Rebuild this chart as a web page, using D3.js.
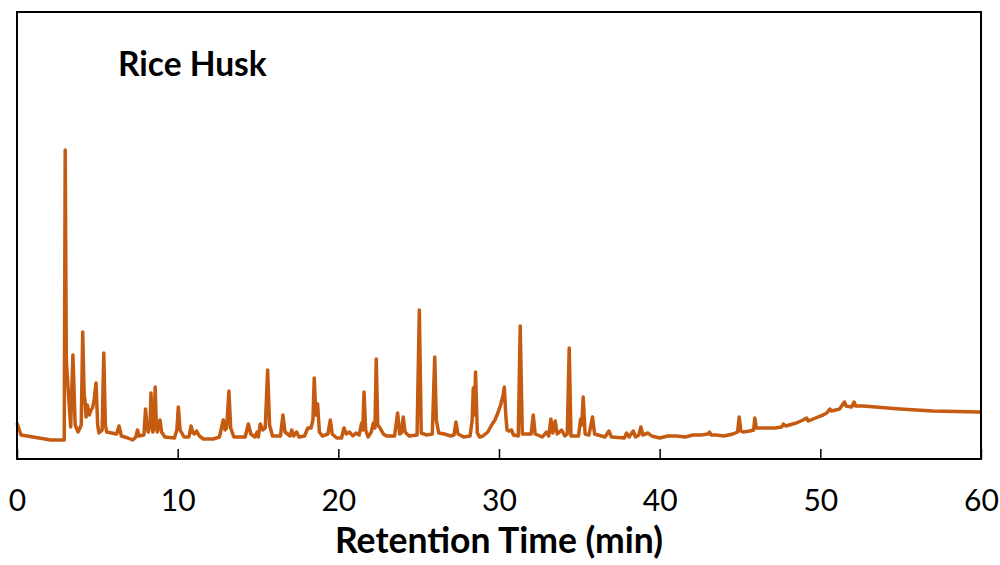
<!DOCTYPE html>
<meta charset="utf-8">
<script src="https://d3js.org/d3.v7.js"></script>
<style>
body { margin: 0; background: white; }
svg { font-family: 'Lato'; }
</style>
<body>
<div id="chart"></div>
<script>
// chromatogram trace: time (min) and detector response (a.u.)
var retentionTime = [0.0, 0.25, 1.0, 2.1, 2.9, 2.94, 3.0, 3.07, 3.12, 3.34, 3.48, 3.62, 3.8, 4.0, 4.09, 4.18, 4.23, 4.3, 4.38, 4.5, 4.6, 4.7, 4.8, 4.92, 5.02, 5.1, 5.3, 5.4, 5.5, 5.58,
    6.2, 6.35, 6.5, 6.9, 7.2, 7.4, 7.5, 7.6, 7.9, 8.0, 8.1, 8.17, 8.28, 8.34, 8.41, 8.46, 8.54, 8.6, 8.67, 8.73, 8.82, 8.9, 9.0, 9.2, 9.8, 9.95,
    10.04, 10.15, 10.4, 10.7, 10.83, 10.95, 11.05, 11.18, 11.35, 11.6, 12.2, 12.6, 12.84, 12.95, 13.05, 13.19, 13.3, 13.5, 14.2, 14.4, 14.55, 14.8, 14.95,
    15.02, 15.14, 15.3, 15.45, 15.6, 15.72, 15.9, 16.4, 16.55, 16.68, 17.0, 17.1, 17.22, 17.4, 17.55, 17.9, 18.1, 18.3, 18.42, 18.5, 18.6, 18.71, 18.82,
    19.0, 19.35, 19.5, 19.62, 19.9, 20.2, 20.35, 20.5, 20.7, 20.9, 21.1, 21.3, 21.45, 21.52, 21.6, 21.7, 21.85, 22.05, 22.18, 22.28, 22.36, 22.45, 22.6,
    22.8, 23.0, 23.5, 23.69, 23.82, 23.92, 24.04, 24.15, 24.4, 24.9, 25.04, 25.16, 25.5, 25.85, 26.0, 26.1, 26.25, 26.6, 27.0, 27.2, 27.32, 27.45, 27.8,
    28.2, 28.33, 28.4, 28.47, 28.54, 28.65, 28.8, 29.0, 29.3, 29.54, 29.75, 29.95, 30.1, 30.26, 30.33, 30.43, 30.5, 30.6, 30.78, 30.9, 31.2, 31.32, 31.45, 31.8,
    32.0, 32.13, 32.25, 32.7, 32.95, 33.1, 33.23, 33.35, 33.5, 33.62, 33.9, 34.1, 34.25, 34.37, 34.48, 34.95, 35.08, 35.15, 35.24, 35.36, 35.6, 35.82,
    35.95, 36.6, 36.84, 37.0, 37.8, 37.94, 38.1, 38.35, 38.5, 38.7, 38.83, 38.95, 39.27, 39.5, 40.0, 40.5, 41.05, 41.6, 42.07, 42.6, 43.0, 43.1, 43.2,
    43.5, 44.0, 44.55, 44.85, 44.95, 45.05, 45.2, 45.6, 45.85, 45.92, 46.02, 46.65, 47.2, 47.6, 47.7, 47.85, 48.5, 48.93, 49.14, 49.25, 49.7,
    50.17, 50.4, 50.59, 50.7, 51.2, 51.5, 51.6, 51.95, 52.1, 52.2, 52.67, 54.95, 57.0, 59.93, 60.0];

var response = [36, 24, 22, 19, 19, 19, 309, 99, 86, 32, 104, 34, 27, 34, 127, 64, 59, 42, 54, 44, 49, 51, 59, 76, 34, 26, 29, 106, 34, 27,
    25, 33, 23, 21, 19, 22, 29, 23, 24, 50, 31, 27, 34, 66, 34, 27, 34, 72, 34, 27, 31, 39, 27, 22, 21, 29,
    52, 29, 22, 22, 33, 26, 25, 28, 23, 20, 20, 22, 39, 29, 31, 68, 31, 22, 22, 35, 25, 22, 27,
    22, 35, 29, 31, 89, 34, 23, 23, 44, 27, 23, 29, 23, 27, 22, 23, 31, 31, 39, 81, 44, 55, 27,
    23, 25, 39, 25, 21, 21, 31, 25, 27, 23, 26, 24, 36, 29, 67, 29, 22, 27, 36, 31, 100, 34, 31,
    25, 23, 23, 46, 25, 26, 42, 27, 23, 24, 149, 26, 24, 25, 102, 39, 26, 25, 23, 24, 37, 25, 22,
    23, 39, 71, 44, 87, 26, 22, 23, 27, 34, 39, 47, 54, 64, 72, 42, 29, 28, 29, 24, 23, 133, 25, 25,
    25, 44, 25, 22, 27, 23, 40, 26, 38, 25, 29, 23, 25, 111, 23, 23, 40, 34, 62, 25, 24, 42,
    25, 22, 28, 22, 21, 26, 22, 28, 22, 24, 32, 24, 26, 23, 21, 23, 23, 22, 24, 24, 25, 27, 24,
    24, 23, 25, 27, 42, 28, 27, 28, 29, 41, 31, 31, 31, 32, 35, 33, 36, 39, 41, 38, 41,
    44, 46, 50, 48, 50, 57, 53, 52, 57, 53, 53, 50, 48, 47, 47];

var xTicks = [0, 10, 20, 30, 40, 50, 60];
var sampleName = "Rice Husk";
var xTitle = "Retention Time (min)";

var margin = {top: 12, right: 19, bottom: 106, left: 17},
    width = 1000 - margin.left - margin.right,
    height = 565 - margin.top - margin.bottom;

var svg = d3.select("#chart")
    .append("svg")
        .attr("width", 1000)
        .attr("height", 565)
    .append("g")
        .attr("transform", "translate(" + margin.left + "," + margin.top + ")");

var x = d3.scaleLinear()
    .domain([0, 60])
    .range([0, width]);

var y = d3.scaleLinear()
    .domain([0, 447])
    .range([height, 0]);

var trace = retentionTime.map(function (t, i) { return [t, response[i]]; });

// the trace
svg.append("path")
    .datum(trace)
    .attr("fill", "none")
    .attr("stroke", "#C55A11")
    .attr("stroke-width", 3.5)
    .attr("stroke-linejoin", "round")
    .attr("d", d3.line()
        .x(function (d) { return x(d[0]); })
        .y(function (d) { return y(d[1]); }));

// frame
svg.append("rect")
    .attr("width", width)
    .attr("height", height)
    .attr("fill", "none")
    .attr("stroke", "black")
    .attr("stroke-width", 2);

// x axis, ticks pointing inside
var xAxis = svg.append("g")
    .attr("transform", "translate(0," + height + ")")
    .call(d3.axisBottom(x).tickValues(xTicks).tickSizeInner(-10).tickSizeOuter(0).tickPadding(31));
xAxis.select(".domain").remove();
xAxis.selectAll("line").attr("stroke", "black").attr("stroke-width", 1.5);
xAxis.selectAll("text")
    .attr("font-family", "Lato")
    .attr("font-size", 30)
    .attr("fill", "black");

svg.append("text")
    .attr("x", width / 2)
    .attr("y", height + 94)
    .attr("text-anchor", "middle")
    .attr("font-weight", "bold")
    .attr("font-size", 35.5)
    .text(xTitle);

svg.append("text")
    .attr("x", 101)
    .attr("y", 64)
    .attr("font-weight", "bold")
    .attr("font-size", 33.5)
    .text(sampleName);
</script>
</body>
